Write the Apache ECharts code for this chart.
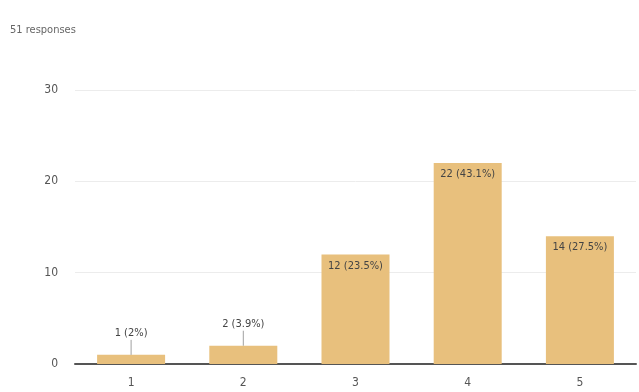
<!DOCTYPE html>
<html>
<head>
<meta charset="utf-8">
<script src="https://cdn.jsdelivr.net/npm/echarts@6/dist/echarts.min.js"></script>
<style>
  html, body { margin: 0; padding: 0; background: #fff; }
  #chart { width: 639px; height: 392px; }
</style>
</head>
<body>
<div id="chart"></div>
<script>
// Rating scale answers and how many people picked each one
const categories = ['1', '2', '3', '4', '5'];
const counts = [1, 2, 12, 22, 14];
const percentLabels = ['2%', '3.9%', '23.5%', '43.1%', '27.5%'];
const yTicks = [0, 10, 20, 30];
const totalText = '51 responses';

const FONT = '"DejaVu Sans Condensed", "Liberation Sans Narrow", "DejaVu Sans", sans-serif';
// font-stretch goes into the canvas font string through the weight slot
const WEIGHT = 'ultra-condensed';
const BAR = '#e8c07d';
const TEXT = '#555';

// Short bars get their label above, with a small leader line
const OUTSIDE_BELOW = 5;

const barData = counts.map((v, i) => {
  const outside = v < OUTSIDE_BELOW;
  return {
    value: v,
    label: {
      position: outside ? 'top' : 'insideTop',
      distance: outside ? 16 : 6
    }
  };
});

const chart = echarts.init(document.getElementById('chart'), null, { renderer: 'canvas' });

chart.setOption({
  animation: false,
  title: {
    text: totalText,
    left: 5,
    top: 20,
    textStyle: { fontFamily: FONT, fontSize: 11, fontWeight: WEIGHT, color: '#666' }
  },
  grid: { left: 75, right: 3, top: 90, bottom: 28 },
  xAxis: {
    type: 'category',
    data: categories,
    axisTick: { show: false },
    axisLine: { lineStyle: { color: '#555', width: 2 } },
    axisLabel: { fontFamily: FONT, fontSize: 12, fontWeight: WEIGHT, color: TEXT, margin: 13 }
  },
  yAxis: {
    type: 'value',
    min: yTicks[0],
    max: yTicks[yTicks.length - 1],
    interval: yTicks[1] - yTicks[0],
    axisLine: { show: false },
    axisTick: { show: false },
    splitLine: { lineStyle: { color: '#ececec' } },
    axisLabel: { fontFamily: FONT, fontSize: 12, fontWeight: WEIGHT, color: TEXT, margin: 17 }
  },
  series: [
    {
      type: 'bar',
      data: barData,
      barWidth: 68,
      itemStyle: { color: BAR },
      label: {
        show: true,
        fontFamily: FONT,
        fontSize: 11,
        fontWeight: WEIGHT,
        color: '#444',
        formatter: p => p.value + ' (' + percentLabels[p.dataIndex] + ')'
      },
      z: 2
    },
    {
      // leader lines from the top of short bars up to their labels
      type: 'custom',
      data: counts.map((v, i) => [i, v]),
      renderItem: (params, api) => {
        const v = api.value(1);
        if (v >= OUTSIDE_BELOW) return null;
        const p = api.coord([api.value(0), v]);
        return {
          type: 'line',
          shape: { x1: p[0], y1: p[1], x2: p[0], y2: p[1] - 15 },
          style: { stroke: '#a0a0a0', lineWidth: 1 }
        };
      },
      z: 3,
      silent: true
    }
  ]
});
</script>
</body>
</html>
